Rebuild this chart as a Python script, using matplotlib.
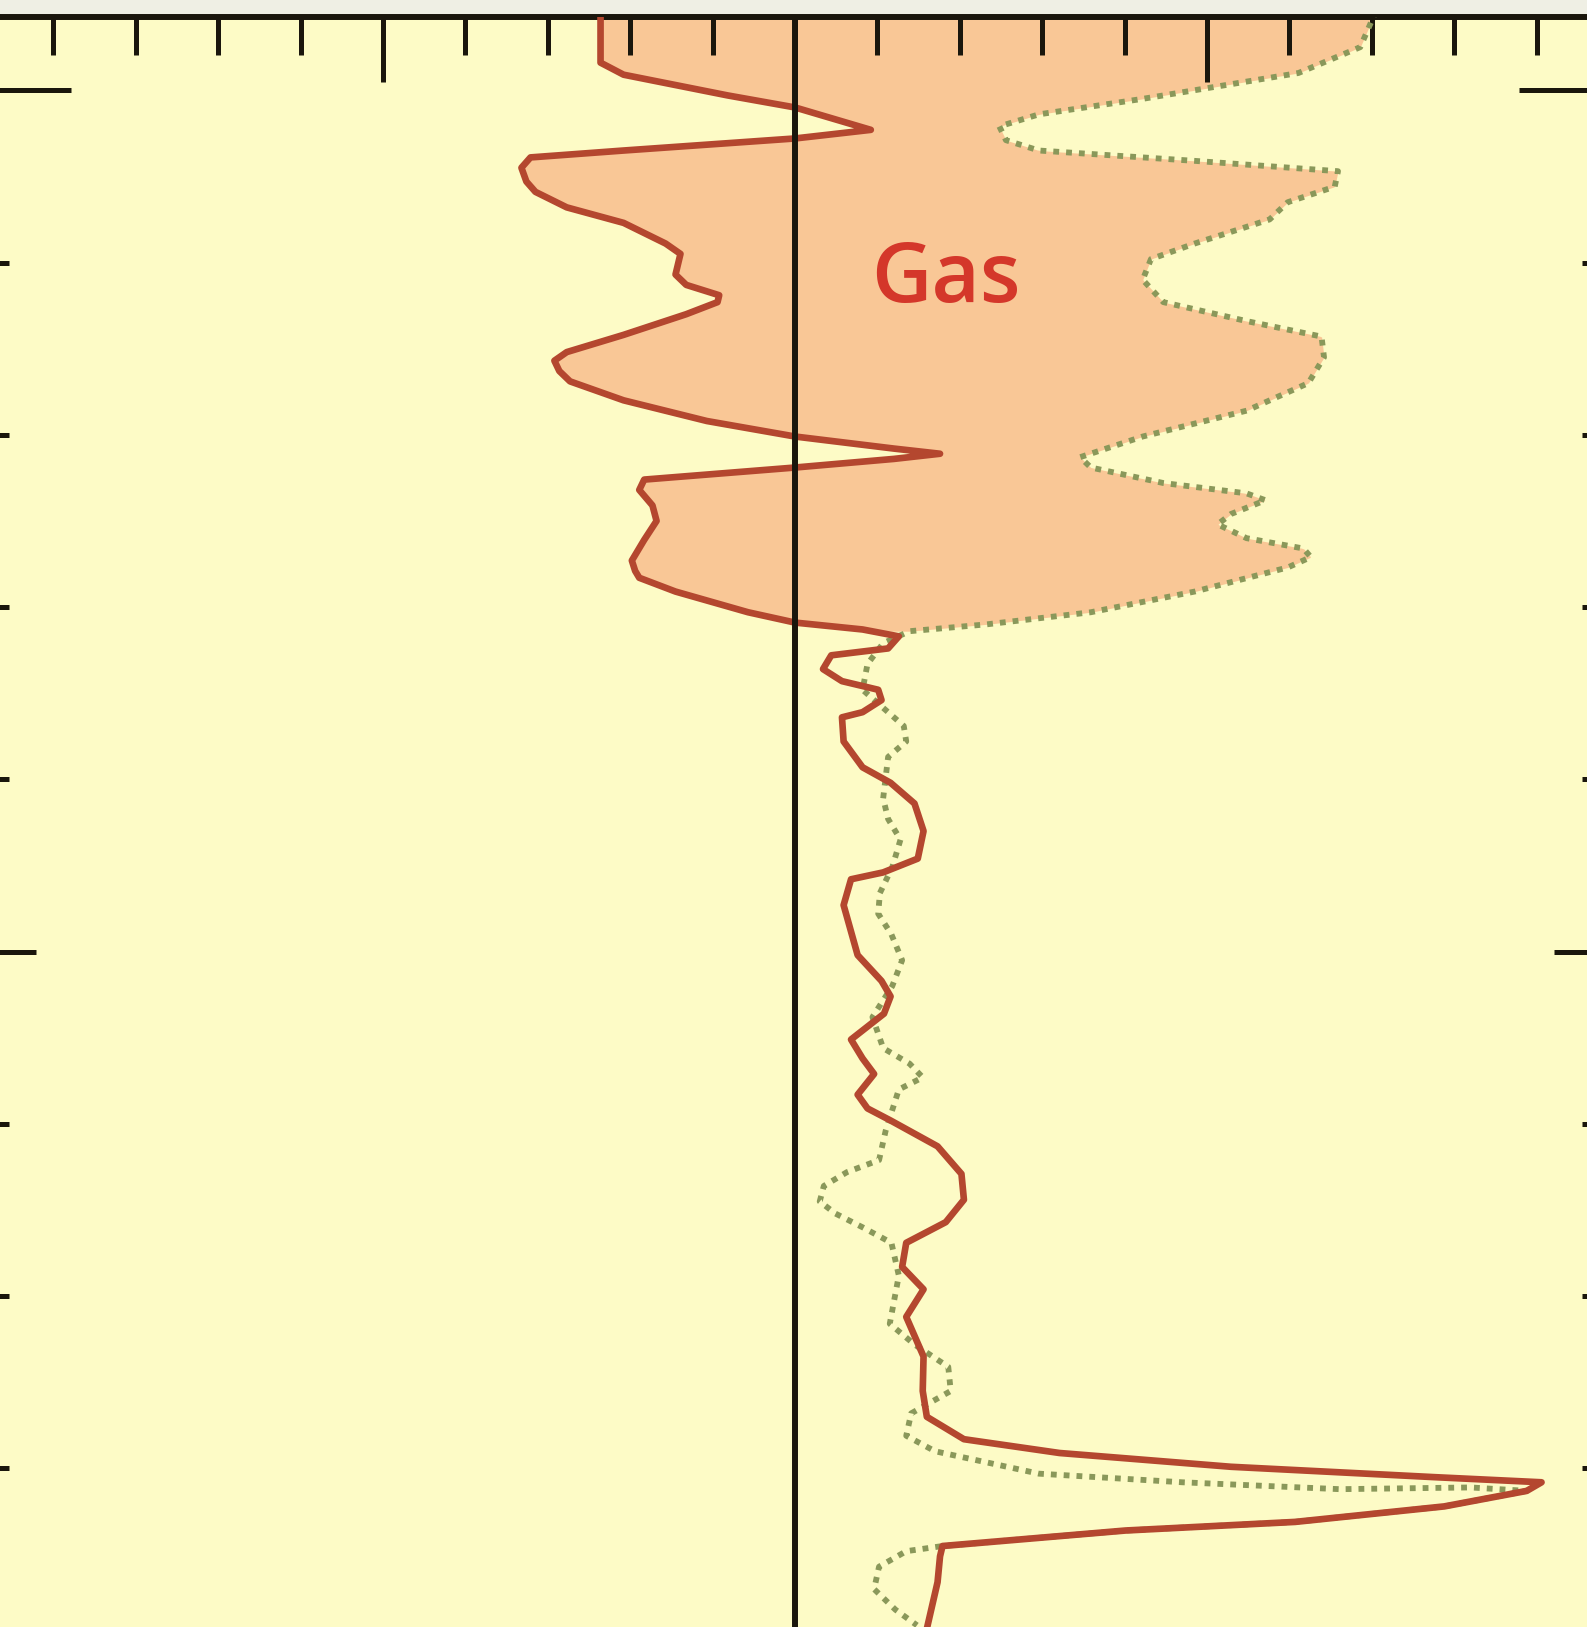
import numpy as np
import matplotlib
matplotlib.use("Agg")
import matplotlib.pyplot as plt
import matplotlib.transforms as mtransforms

# Log readings (x: curve value, depth: m)
red_x = [-23.6, -23.6, -20.8, -8.2, 0.0, 9.2, 0.0, -20.8, -32.1, -33.2,
         -32.6, -31.5, -27.7, -20.8, -15.7, -13.9, -14.5, -13.2, -9.2, -9.4,
         -13.2, -20.8, -27.7, -29.2, -28.6, -27.3, -20.8, -10.7, 0.0, 12.0,
         17.6, 12.0, 0.0, -18.3, -18.9, -17.3, -16.8, -18.3, -19.8, -19.4,
         -18.9, -14.5, -5.7, 0.0, 8.2, 12.6, 11.3, 4.4, 3.4, 5.7,
         10.1, 10.5, 8.2, 5.7, 5.9, 8.2, 11.6, 14.5, 15.6, 14.9,
         10.7, 6.8, 5.9, 7.6, 10.5, 11.6, 10.8, 6.8, 8.2, 9.6,
         7.6, 8.8, 11.6, 17.3, 20.2, 20.5, 18.3, 13.5, 13.0, 15.6,
         13.5, 15.6, 15.5, 16.0, 20.5, 32.1, 52.9, 77.5, 90.6, 88.8,
         78.8, 60.7, 40.1, 17.9, 17.6, 17.3, 16.0]
red_depth = [995.4, 998.4, 999.1, 1000.3, 1001.0, 1002.3, 1002.8, 1003.5, 1003.9, 1004.5,
             1005.3, 1005.9, 1006.8, 1007.7, 1008.9, 1009.5, 1010.7, 1011.3, 1011.9, 1012.3,
             1013.0, 1014.2, 1015.2, 1015.7, 1016.3, 1016.9, 1018.0, 1019.2, 1020.1, 1020.8,
             1021.1, 1021.4, 1021.9, 1022.6, 1023.2, 1024.1, 1025.0, 1026.1, 1027.3, 1027.9,
             1028.3, 1029.1, 1030.3, 1030.9, 1031.3, 1031.7, 1032.4, 1032.8, 1033.6, 1034.3,
             1034.8, 1035.4, 1036.1, 1036.4, 1037.8, 1039.3, 1040.2, 1041.4, 1043.0, 1044.6,
             1045.4, 1045.8, 1047.3, 1050.2, 1051.7, 1052.6, 1053.6, 1055.1, 1056.2, 1057.1,
             1058.3, 1059.1, 1059.8, 1061.3, 1062.9, 1064.4, 1065.7, 1066.9, 1068.3, 1069.6,
             1071.2, 1073.5, 1075.5, 1077.0, 1078.3, 1079.1, 1079.9, 1080.5, 1080.8, 1081.3,
             1082.2, 1083.1, 1083.6, 1084.5, 1085.1, 1086.6, 1089.3]

green_x = [70.5, 68.6, 61.1, 42.2, 29.6, 24.8, 25.6, 29.6, 48.5, 65.9,
           65.5, 59.8, 57.6, 48.5, 43.2, 42.2, 44.7, 54.8, 63.9, 64.2,
           62.3, 54.8, 42.2, 34.6, 35.9, 44.7, 54.8, 57.1, 52.9, 51.3,
           54.8, 61.7, 62.6, 59.8, 48.5, 35.9, 23.3, 13.9, 10.7, 8.8,
           8.2, 13.2, 13.5, 11.3, 10.7, 11.3, 12.8, 11.8, 10.3, 10.1,
           11.7, 13.0, 11.8, 9.4, 10.7, 13.9, 15.5, 12.6, 11.0, 10.2,
           6.3, 3.5, 3.0, 4.9, 8.2, 11.7, 12.6, 11.5, 14.5, 18.6,
           18.9, 14.1, 13.5, 17.0, 29.6, 47.0, 66.1, 82.0, 88.8, 78.8,
           60.7, 40.1, 17.9, 13.5, 10.2, 9.6, 12.2, 14.8]
green_depth = [995.4, 997.5, 999.0, 1000.5, 1001.4, 1002.1, 1002.9, 1003.5, 1004.1, 1004.7,
               1005.6, 1006.5, 1007.5, 1008.9, 1009.8, 1011.0, 1012.3, 1013.4, 1014.3, 1015.5,
               1017.0, 1018.6, 1020.1, 1021.3, 1021.9, 1022.8, 1023.4, 1023.8, 1024.6, 1025.2,
               1026.0, 1026.6, 1027.1, 1027.7, 1029.1, 1030.3, 1031.0, 1031.4, 1032.1, 1033.3,
               1034.8, 1036.9, 1037.8, 1038.7, 1041.1, 1042.3, 1043.5, 1045.1, 1046.6, 1047.8,
               1049.0, 1050.5, 1052.0, 1053.8, 1055.6, 1056.5, 1057.3, 1058.0, 1060.4, 1062.1,
               1062.8, 1063.6, 1064.5, 1065.2, 1066.0, 1066.9, 1068.8, 1071.6, 1072.8, 1074.1,
               1075.5, 1076.8, 1078.1, 1079.0, 1080.3, 1080.8, 1081.2, 1081.1, 1081.3, 1082.2,
               1083.1, 1083.6, 1084.5, 1084.8, 1085.7, 1087.0, 1088.2, 1089.1]

gas_base = 1031.4   # bottom of the gas zone
gas_label = "Gas"

BG = '#FDFBC6'
FILL = '#F9C796'
RED = '#B4472F'
GREEN = '#8A985A'
INK = '#1A160C'

W, H = 1587, 1627
fig = plt.figure(figsize=(W / 100, H / 100), dpi=100)
fig.patch.set_facecolor('#EFEFE4')

# axes run past the left/right edges, only the top frame is inside the picture
left_px, right_px, top_px = -29, 1619, 17
ax = fig.add_axes([left_px / W, 0, (right_px - left_px) / W, 1 - top_px / H])
ax.set_facecolor(BG)
ax.set_xlim(-100, 100)
ax.set_ylim(1089.2, 995.75)

# gas crossover shading
dd = np.linspace(min(red_depth), gas_base, 800)
r = np.interp(dd, red_depth, red_x)
g = np.interp(dd, green_depth, green_x)
ax.fill_betweenx(dd, r, g, where=g >= r, color=FILL, lw=0, zorder=1, interpolate=True)

ax.plot(green_x, green_depth, color=GREEN, lw=4.2, ls=(0, (1.0, 1.2)),
        dash_capstyle='butt', zorder=3)
ax.plot(red_x, red_depth, color=RED, lw=4.8, solid_joinstyle='round',
        solid_capstyle='round', zorder=4)
ax.axvline(0, color=INK, lw=4.3, zorder=5)

ax.text(18.3, 1011.0, gas_label, color='#D4372A', fontsize=60,
        family=['Open Sans', 'DejaVu Sans'], fontweight='semibold',
        ha='center', va='center', zorder=6)

# frame and ticks
for s in ['left', 'right', 'top']:
    ax.spines[s].set_linewidth(4.3)
    ax.spines[s].set_color(INK)
ax.spines['bottom'].set_visible(False)

ax.xaxis.tick_top()
ax.set_xticks(np.arange(-100, 101, 50))
ax.set_xticks(np.arange(-100, 101, 10), minor=True)
ax.set_yticks([1000, 1050])
ax.set_yticks(np.arange(1000, 1090, 10), minor=True)
ax.tick_params(which='both', direction='in', width=3.6, color=INK,
               top=True, bottom=False, left=True, right=True,
               labeltop=False, labelbottom=False, labelleft=False, labelright=False)
ax.tick_params(which='major', length=47)
ax.tick_params(which='minor', length=27)

# longer index tick at 1000 m on both sides
trans = mtransforms.blended_transform_factory(ax.transAxes, ax.transData)
ext = 100 / (right_px - left_px)
ax.plot([0, ext], [1000, 1000], color=INK, lw=3.6, transform=trans, clip_on=False,
        solid_capstyle='butt', zorder=6)
ax.plot([1 - ext, 1], [1000, 1000], color=INK, lw=3.6, transform=trans, clip_on=False,
        solid_capstyle='butt', zorder=6)

fig.savefig('out.png', dpi=100, facecolor=fig.get_facecolor())
